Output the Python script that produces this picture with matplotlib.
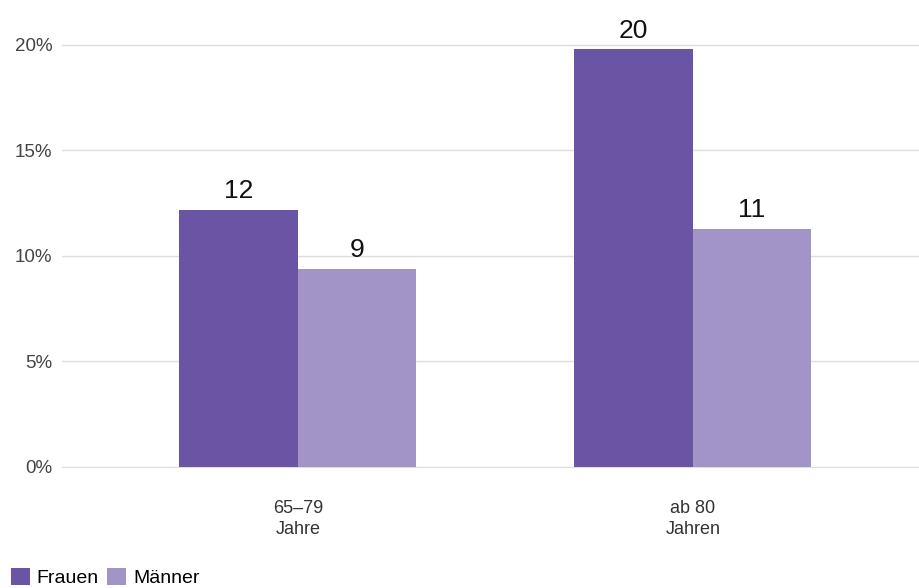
import matplotlib.pyplot as plt
import numpy as np

plt.rcParams['font.family'] = ['Liberation Sans', 'DejaVu Sans']

categories = ['65–79\nJahre', 'ab 80\nJahren']
frauen = [12.2, 19.8]
maenner = [9.4, 11.3]
yticks = [0, 5, 10, 15, 20]

col_f = '#6955a3'
col_m = '#a294c6'

fig = plt.figure(figsize=(9.2, 5.88), dpi=100)
ax = fig.add_axes([62 / 920, 1 - 468 / 588, 858 / 920, 468 / 588])

x = np.arange(len(categories))
w = 0.3
b1 = ax.bar(x - w / 2, frauen, w, color=col_f, label='Frauen', zorder=2)
b2 = ax.bar(x + w / 2, maenner, w, color=col_m, label='Männer', zorder=2)

for bars, vals in ((b1, frauen), (b2, maenner)):
    for r, v in zip(bars, vals):
        ax.text(r.get_x() + r.get_width() / 2, v + 0.3, f'{v:.0f}',
                ha='center', va='bottom', fontsize=19, color='#111111')

ax.set_xlim(-0.597, 1.575)
ax.set_ylim(-0.05, 22.13)
ax.set_yticks(yticks)
ax.set_yticklabels([f'{t}%' for t in yticks])
ax.set_xticks(x)
ax.set_xticklabels(categories, linespacing=1.35)
ax.yaxis.grid(True, color='#dddddd', linewidth=1, zorder=0)
ax.tick_params(axis='y', length=0, labelsize=13.5, labelcolor='#444444', pad=7)
ax.tick_params(axis='x', length=0, labelsize=13, labelcolor='#333333', pad=23)
for s in ax.spines.values():
    s.set_visible(False)

fig.legend(loc='lower left', bbox_to_anchor=(0.003, -0.012), ncol=2,
           frameon=False, fontsize=14, handlelength=1.0, handleheight=1.0,
           handletextpad=0.35, columnspacing=0.4, borderaxespad=0)

fig.savefig('out.png', dpi=100)
